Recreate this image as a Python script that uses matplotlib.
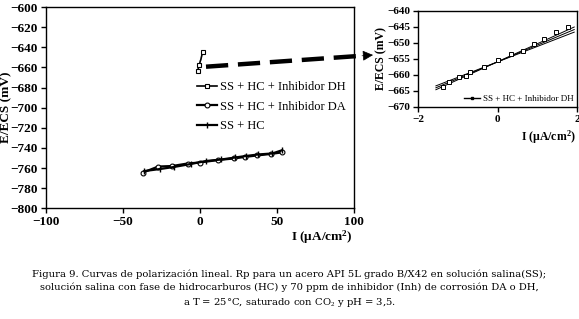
import numpy as np
import matplotlib
matplotlib.use('Agg')
import matplotlib.pyplot as plt

# main panel data
da_x = [-37, -27, -18, -8, 0, 12, 22, 29, 37, 46, 53]
da_y = [-764.5, -758.5, -758, -755.5, -754.5, -752, -750.5, -749, -747.5, -746, -744.5]
hc_x = [-36, -26, -17, -6, 4, 14, 23, 30, 38, 47, 53]
hc_y = [-763, -761, -759, -756, -753, -751.5, -749.5, -748, -746.5, -745.5, -742.5]

# inhibitor DH (also shown in the zoom panel)
dh_x = [-1.38, -1.21, -0.97, -0.80, -0.68, -0.34, 0.0, 0.34, 0.64, 0.91, 1.17, 1.47, 1.78]
dh_y = [-663.9, -662.1, -660.7, -660.3, -659.0, -657.5, -655.4, -653.4, -652.4, -650.3, -648.8, -646.7, -645.0]
fit_x = [-1.55, 1.93]
fit_y = [[-664.6, -645.0], [-664.0, -645.8], [-663.4, -646.6]]

main_xticks = [-100, -50, 0, 50, 100]
main_yticks = list(range(-800, -599, 20))
zoom_xticks = [-2, 0, 2]
zoom_yticks = list(range(-670, -639, 5))

caption = ("Figura 9. Curvas de polarización lineal. Rp para un acero API 5L grado B/X42 en solución salina(SS);\n"
           "solución salina con fase de hidrocarburos (HC) y 70 ppm de inhibidor (Inh) de corrosión DA o DH,\n"
           "a T = 25°C, saturado con CO$_2$ y pH = 3,5.")

plt.rcParams['font.family'] = 'Liberation Serif'
plt.rcParams['mathtext.fontset'] = 'custom'
plt.rcParams['mathtext.rm'] = 'Liberation Serif'
plt.rcParams['mathtext.it'] = 'Liberation Serif:italic'
plt.rcParams['mathtext.bf'] = 'Liberation Serif:bold'

W, H = 579, 319
fig = plt.figure(figsize=(W / 100, H / 100), dpi=100)

def style(ax, size):
    for s in ax.spines.values():
        s.set_linewidth(1.0)
    ax.tick_params(direction='out', length=3.5, width=1.0, labelsize=size, pad=2)
    for lab in ax.get_xticklabels() + ax.get_yticklabels():
        lab.set_fontweight('bold')

# main axes
ax = fig.add_axes([45.7 / W, 1 - 208.3 / H, (354 - 45.7) / W, (208.3 - 7) / H])
ax.plot(dh_x, dh_y, color='black', lw=1.2, marker='s', ms=3.5, mfc='white', mew=0.8,
        markevery=[0, 5, 12], label='SS + HC + Inhibidor DH')
ax.plot(da_x, da_y, color='black', lw=1.6, marker='o', ms=3.5, mfc='white', mew=0.8,
        label='SS + HC + Inhibidor DA')
ax.plot(hc_x, hc_y, color='black', lw=1.6, marker='|', ms=5, mew=1.0, label='SS + HC')
ax.set_xlim(-100, 100)
ax.set_ylim(-800, -600)
ax.set_xticks(main_xticks)
ax.set_yticks(main_yticks)
style(ax, 9.5)
ax.set_ylabel('E/ECS (mV)', fontsize=9.5, fontweight='bold')
ax.yaxis.set_label_coords(-0.11, 0.5)
ax.set_xlabel('I (µA/cm$^\\mathbf{2}$)', fontsize=9.5, fontweight='bold')
ax.xaxis.set_label_coords(0.895, -0.1)
leg = ax.legend(loc='upper left', bbox_to_anchor=(197 / W, 1 - 81 / H), bbox_transform=fig.transFigure,
                frameon=False, fontsize=9, handlelength=1.6, handletextpad=0.2, labelspacing=0.6,
                borderaxespad=0, borderpad=0)

# dashed arrow to zoom panel
x0, y0 = 206, 66.7
x1, y1 = 364, 55.6
fig.add_artist(plt.Line2D([x0 / W, x1 / W], [1 - y0 / H, 1 - y1 / H], transform=fig.transFigure,
                          color='black', lw=3.2, dashes=(5, 2.2), solid_capstyle='butt'))
ax.annotate('', xy=(373 / W, 1 - 55 / H), xytext=(362 / W, 1 - 55.8 / H),
            xycoords='figure fraction', textcoords='figure fraction',
            arrowprops=dict(arrowstyle='-|>', color='black', lw=0.5, mutation_scale=16,
                            shrinkA=0, shrinkB=0))

# zoom axes
ax2 = fig.add_axes([418 / W, 1 - 107 / H, (577 - 418) / W, (107 - 11) / H])
for fy in fit_y:
    ax2.plot(fit_x, fy, color='black', lw=0.7)
ax2.plot(dh_x, dh_y, color='black', lw=0.8, marker='s', ms=3, mfc='white', mew=0.7, ls='none')
ax2.plot([], [], color='black', lw=1.0, marker='s', ms=2, label='SS + HC + Inhibidor DH')
ax2.set_xlim(-2, 2)
ax2.set_ylim(-670, -640)
ax2.set_xticks(zoom_xticks)
ax2.set_yticks(zoom_yticks)
style(ax2, 8)
ax2.set_ylabel('E/ECS (mV)', fontsize=8.5, fontweight='bold')
ax2.yaxis.set_label_coords(-0.19, 0.5)
ax2.set_xlabel('I (µA/cm$^\\mathbf{2}$)', fontsize=8.5, fontweight='bold')
ax2.xaxis.set_label_coords(0.82, -0.22)
ax2.legend(loc='lower right', frameon=False, fontsize=6.5, handlelength=1.8, handletextpad=0.3,
           borderaxespad=0.3, borderpad=0.1)

fig.text(0.5, 1 - 289 / H, caption, ha='center', va='center', fontsize=7.2,
         family='DejaVu Serif', linespacing=1.45)

fig.savefig('out.png', dpi=100)
